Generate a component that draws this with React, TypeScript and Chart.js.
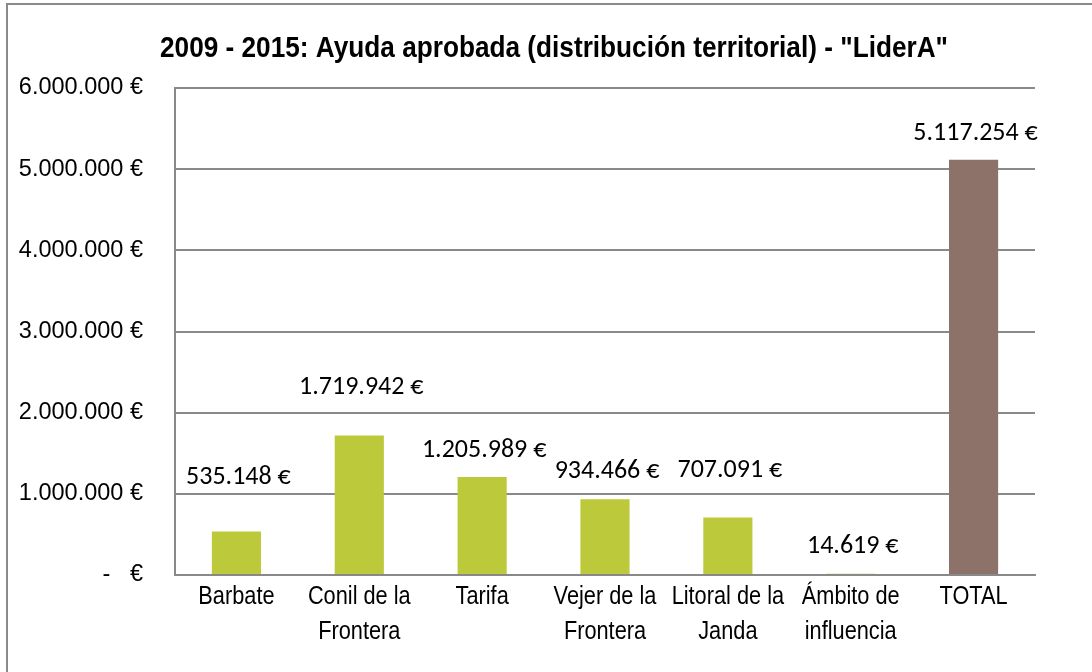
import React, { useEffect, useRef } from "react";
import { Chart, registerables } from "chart.js";

Chart.register(...registerables);

const titleText = '2009 - 2015: Ayuda aprobada (distribución territorial) - "LiderA"';

const categories: string[][] = [
  ["Barbate"],
  ["Conil de la", "Frontera"],
  ["Tarifa"],
  ["Vejer de la", "Frontera"],
  ["Litoral de la", "Janda"],
  ["Ámbito de", "influencia"],
  ["TOTAL"],
];

const values = [535148, 1719942, 1205989, 934466, 707091, 14619, 5117254];

const valueLabels = [
  "535.148 €",
  "1.719.942 €",
  "1.205.989 €",
  "934.466 €",
  "707.091 €",
  "14.619 €",
  "5.117.254 €",
];

const yTickValues = [0, 1000000, 2000000, 3000000, 4000000, 5000000, 6000000];
const yTickLabels = [
  "-   €",
  "1.000.000 €",
  "2.000.000 €",
  "3.000.000 €",
  "4.000.000 €",
  "5.000.000 €",
  "6.000.000 €",
];

const GREEN = "#BCC93A";
const BROWN = "#8C7268";
const barColors = [GREEN, GREEN, GREEN, GREEN, GREEN, GREEN, BROWN];

// manual label lift above each bar top (px), as placed in the original
const labelLift = [54, 48, 27, 28, 47, 27, 26];

const GRID = "#898989";
const SANS = "'Liberation Sans', Arial, sans-serif";

const overlayPlugin = {
  id: "overlay",
  afterDraw(chart: any) {
    const ctx = chart.ctx;
    // data labels
    const meta = chart.getDatasetMeta(0);
    ctx.save();
    ctx.fillStyle = "#000";
    ctx.font = "26px Carlito, Lato, sans-serif";
    ctx.textAlign = "center";
    ctx.textBaseline = "middle";
    meta.data.forEach((bar: any, i: number) => {
      ctx.fillText(valueLabels[i], bar.x + 2, bar.y - labelLift[i]);
    });
    ctx.restore();

    // category labels (narrow look)
    const xs = chart.scales.x;
    const baseY = xs.top + 22;
    ctx.save();
    ctx.fillStyle = "#000";
    ctx.font = "25px " + SANS;
    ctx.textAlign = "center";
    ctx.textBaseline = "middle";
    categories.forEach((lines, i) => {
      const px = xs.getPixelForValue(i);
      lines.forEach((line, j) => {
        ctx.save();
        ctx.translate(px, baseY + j * 35);
        ctx.scale(0.87, 1);
        ctx.fillText(line, 0, 0);
        ctx.restore();
      });
    });
    ctx.restore();

    // title (narrow bold look)
    ctx.save();
    ctx.fillStyle = "#000";
    ctx.font = "bold 30px " + SANS;
    ctx.textBaseline = "middle";
    ctx.textAlign = "center";
    const w = ctx.measureText(titleText).width;
    ctx.translate(554, 49);
    ctx.scale(788 / w, 1);
    ctx.fillText(titleText, 0, 0);
    ctx.restore();
  },
};

export default function App() {
  const ref = useRef<HTMLCanvasElement | null>(null);

  useEffect(() => {
    if (!ref.current) return;
    const chart = new Chart(ref.current, {
      type: "bar",
      data: {
        labels: categories.map((c) => c.join(" ")),
        datasets: [
          {
            data: values,
            backgroundColor: barColors,
            borderWidth: 0,
            barPercentage: 0.4,
            categoryPercentage: 1,
          },
        ],
      },
      options: {
        responsive: false,
        animation: false,
        devicePixelRatio: 1,
        layout: { padding: { top: 88, right: 57, left: 0, bottom: 0 } },
        plugins: {
          legend: { display: false },
          title: { display: false },
          tooltip: { enabled: false },
        },
        scales: {
          x: {
            grid: { display: false, drawTicks: false },
            border: { display: true, color: GRID, width: 2 },
            ticks: { display: false },
            afterFit(scale: any) {
              scale.height = 97;
            },
          },
          y: {
            min: 0,
            max: 6000000,
            afterBuildTicks(scale: any) {
              scale.ticks = yTickValues.map((v) => ({ value: v }));
            },
            grid: { color: GRID, lineWidth: 2, drawTicks: false },
            border: { display: true, color: GRID, width: 2 },
            ticks: {
              color: "#000",
              font: { family: SANS, size: 23.5 },
              padding: 32,
              callback(value: any) {
                const idx = yTickValues.indexOf(Number(value));
                return idx >= 0 ? yTickLabels[idx] : "";
              },
            },
            afterFit(scale: any) {
              scale.width = 175;
            },
          },
        },
      },
      plugins: [overlayPlugin],
    });
    return () => chart.destroy();
  }, []);

  return (
    <div
      style={{
        position: "fixed",
        left: 0,
        top: 0,
        width: 1092,
        height: 672,
        background: "#fff",
        overflow: "hidden",
      }}
    >
      <div
        style={{
          position: "absolute",
          left: 6,
          top: 3,
          width: 1200,
          height: 800,
          borderTop: "2px solid #8a8a8a",
          borderLeft: "2px solid #8a8a8a",
        }}
      />
      <canvas
        ref={ref}
        width={1092}
        height={672}
        style={{ position: "absolute", left: 0, top: 0, width: 1092, height: 672 }}
      />
    </div>
  );
}
